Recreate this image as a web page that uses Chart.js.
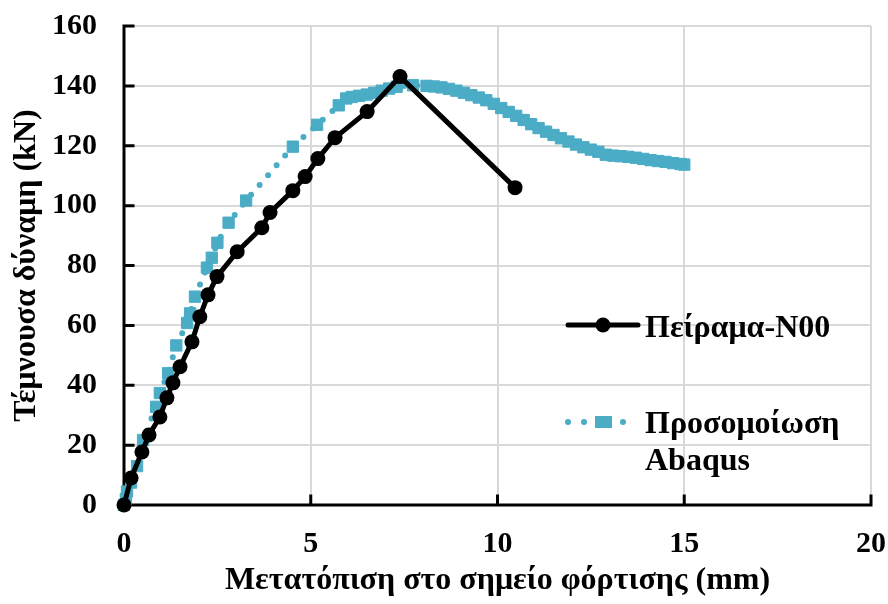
<!DOCTYPE html>
<html>
<head>
<meta charset="utf-8">
<script src="https://cdn.jsdelivr.net/npm/chart.js@4.4.1/dist/chart.umd.min.js"></script>
<style>
html,body{margin:0;padding:0;background:#fff;}
#wrap{width:888px;height:604px;position:relative;}
</style>
</head>
<body>
<div id="wrap"><canvas id="c" width="888" height="604"></canvas></div>
<script>
// ---- data ----
const expLabel = 'Πείραμα-Ν00';
const simLabel = ['Προσομοίωση', 'Abaqus'];
const xTitle = 'Μετατόπιση στο σημείο φόρτισης (mm)';
const yTitle = 'Τέμνουσα δύναμη (kN)';

const expX = [0, 0.19, 0.48, 0.67, 0.96, 1.15, 1.31, 1.50, 1.82, 2.03, 2.25, 2.49, 3.03, 3.69, 3.91, 4.52, 4.85, 5.19, 5.65, 6.51, 7.39, 10.47];
const expY = [0, 9.0, 17.7, 23.4, 29.4, 35.8, 40.8, 46.2, 54.5, 62.9, 70.2, 76.3, 84.6, 92.6, 97.7, 105.0, 109.7, 115.7, 122.7, 131.4, 143.1, 106.0];

const simX = [0, 0.05, 0.08, 0.19, 0.35, 0.51, 0.86, 0.96, 1.18, 1.40, 1.69, 1.77, 1.90, 2.22, 2.35, 2.50, 2.80, 3.27, 4.52, 5.17,
  5.75, 5.95, 6.10, 6.30, 6.50, 6.70, 6.90, 7.10, 7.30, 7.74,
  8.1, 8.3, 8.5, 8.7, 8.9, 9.1, 9.3, 9.5, 9.7, 9.9, 10.1, 10.3, 10.5, 10.7, 10.9, 11.1, 11.3, 11.5, 11.7, 11.9,
  12.1, 12.3, 12.5, 12.7, 12.9, 13.1, 13.3, 13.5, 13.7, 13.9, 14.1, 14.3, 14.5, 14.7, 14.9, 15.0];
const simY = [0, 2.0, 4.5, 7.5, 13.0, 21.7, 32.8, 37.4, 44.0, 53.3, 60.8, 64.0, 69.6, 79.3, 82.6, 87.6, 94.3, 101.7, 119.7, 127.0,
  133.5, 135.8, 136.3, 136.7, 137.1, 137.7, 138.4, 139.1, 139.7, 140.2,
  140.0, 139.8, 139.5, 139.0, 138.4, 137.7, 136.9, 136.1, 135.2, 134.0, 132.6, 131.3, 130.0, 128.6, 127.2, 125.9, 124.7, 123.6, 122.5, 121.4,
  120.4, 119.5, 118.7, 118.0, 117.0, 116.7, 116.5, 116.3, 116.0, 115.6, 115.2, 114.9, 114.6, 114.2, 113.9, 113.7];

const xMin = 0, xMax = 20, xStep = 5;
const yMin = 0, yMax = 160, yStep = 20;

// ---- styles ----
const FONT = '"Liberation Serif", "Times New Roman", serif';
const CYAN = '#4BACC6';

const expData = expX.map((x, i) => ({x: x, y: expY[i]}));
const simData = simX.map((x, i) => ({x: x, y: simY[i]}));

const axisPlugin = {
  id: 'axisPlugin',
  beforeDatasetsDraw(chart) {
    const ctx = chart.ctx;
    const xs = chart.scales.x, ys = chart.scales.y;
    const x0 = xs.getPixelForValue(xMin), x1 = xs.getPixelForValue(xMax);
    const y0 = ys.getPixelForValue(yMin), y1 = ys.getPixelForValue(yMax);
    ctx.save();
    ctx.strokeStyle = '#000';
    ctx.lineWidth = 3;
    ctx.lineCap = 'square';
    ctx.beginPath();
    ctx.moveTo(x0, y1); ctx.lineTo(x0, y0); ctx.lineTo(x1, y0);
    for (let v = yMin; v <= yMax; v += yStep) {
      const p = ys.getPixelForValue(v);
      ctx.moveTo(x0, p); ctx.lineTo(x0 + 9, p);
    }
    for (let v = xMin; v <= xMax; v += xStep) {
      const p = xs.getPixelForValue(v);
      ctx.moveTo(p, y0); ctx.lineTo(p, y0 - 9);
    }
    ctx.stroke();
    ctx.restore();
  },
  afterDraw(chart) {
    const ctx = chart.ctx;
    ctx.save();
    // legend entry 1
    ctx.strokeStyle = '#000';
    ctx.lineWidth = 5;
    ctx.lineCap = 'round';
    ctx.beginPath(); ctx.moveTo(568, 325); ctx.lineTo(638, 325); ctx.stroke();
    ctx.fillStyle = '#000';
    ctx.beginPath(); ctx.arc(603, 325, 7.5, 0, Math.PI * 2); ctx.fill();
    ctx.font = 'bold 32px ' + FONT;
    ctx.textBaseline = 'alphabetic';
    ctx.textAlign = 'left';
    ctx.fillText(expLabel, 645, 337);
    // legend entry 2
    ctx.fillStyle = CYAN;
    [568, 584, 623].forEach(x => { ctx.beginPath(); ctx.arc(x, 422, 3, 0, Math.PI * 2); ctx.fill(); });
    ctx.fillRect(595, 416, 17, 12);
    ctx.fillStyle = '#000';
    ctx.fillText(simLabel[0], 645, 433);
    ctx.fillText(simLabel[1], 645, 470);
    ctx.restore();
  }
};

new Chart(document.getElementById('c'), {
  type: 'scatter',
  data: {
    datasets: [
      {
        label: expLabel,
        data: expData,
        showLine: true,
        borderColor: '#000',
        backgroundColor: '#000',
        borderWidth: 5,
        pointRadius: 7.5,
        pointHoverRadius: 7.5,
        pointBackgroundColor: '#000',
        pointBorderColor: '#000',
        pointBorderWidth: 0,
        clip: false,
        order: 0
      },
      {
        label: simLabel.join(' '),
        data: simData,
        showLine: true,
        borderColor: CYAN,
        backgroundColor: CYAN,
        borderWidth: 6,
        borderDash: [0, 13],
        borderCapStyle: 'round',
        pointStyle: 'rect',
        pointRadius: 8,
        pointHoverRadius: 8,
        pointBackgroundColor: CYAN,
        pointBorderColor: CYAN,
        pointBorderWidth: 1,
        clip: false,
        order: 1
      }
    ]
  },
  options: {
    responsive: false,
    animation: false,
    devicePixelRatio: 1,
    layout: {padding: {top: 26, right: 17, left: 0, bottom: 0}},
    plugins: {legend: {display: false}, tooltip: {enabled: false}},
    scales: {
      x: {
        type: 'linear', min: xMin, max: xMax,
        afterFit(s) { s.height = 99; s.paddingLeft = 0; s.paddingRight = 0; },
        ticks: {stepSize: xStep, padding: 21, color: '#000', font: {family: FONT, size: 30, weight: 'bold'}},
        grid: {color: '#d9d9d9', lineWidth: 2, drawTicks: false},
        border: {display: false},
        title: {display: true, text: xTitle, color: '#000', font: {family: FONT, size: 32, weight: 'bold'}, padding: {top: 0, bottom: 4}}
      },
      y: {
        type: 'linear', min: yMin, max: yMax,
        afterFit(s) { s.width = 124; s.paddingTop = 0; s.paddingBottom = 0; },
        ticks: {stepSize: yStep, padding: 27, color: '#000', font: {family: FONT, size: 30, weight: 'bold'}},
        grid: {color: '#d9d9d9', lineWidth: 2, drawTicks: false},
        border: {display: false},
        title: {display: true, text: yTitle, color: '#000', font: {family: FONT, size: 32, weight: 'bold'}, padding: {top: 8, bottom: 0}}
      }
    }
  },
  plugins: [axisPlugin]
});
</script>
</body>
</html>
